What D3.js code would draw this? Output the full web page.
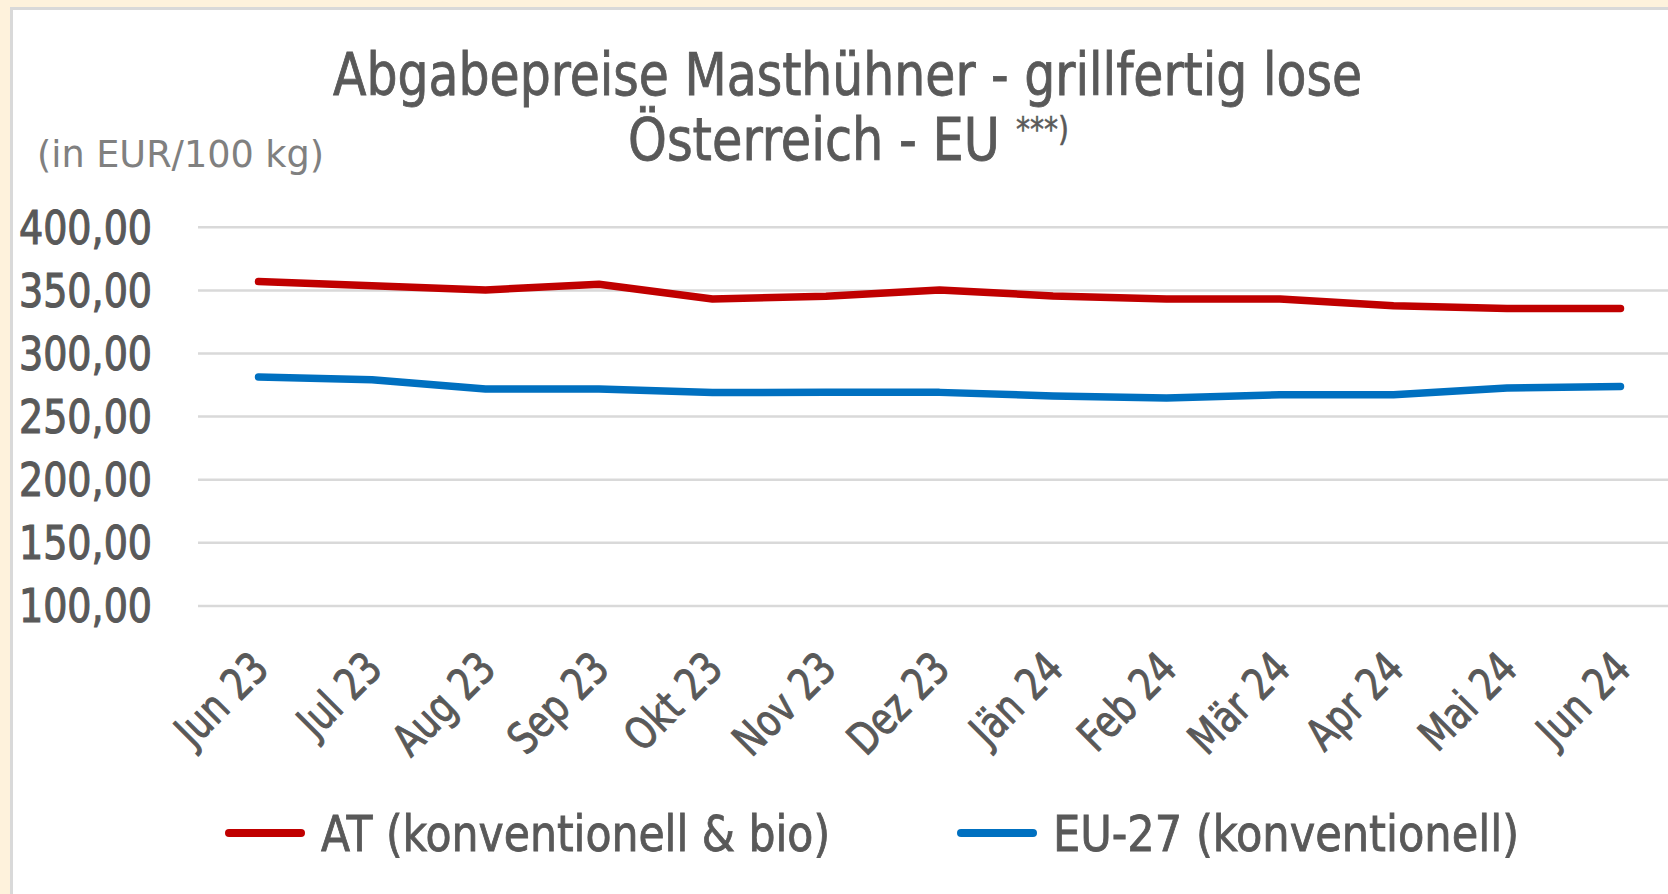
<!DOCTYPE html>
<html>
<head>
  <meta charset="utf-8">
  <title>Abgabepreise Masthühner</title>
  <style>
    html, body { margin: 0; padding: 0; background: #fef2dc; }
    svg { display: block; }
    text { font-family: "DejaVu Sans Condensed", "DejaVu Sans", sans-serif; fill: #595959; }
  </style>
</head>
<body>
  <svg width="1668" height="894"></svg>
  <script src="https://cdn.jsdelivr.net/npm/d3@7"></script>
  <script>
  // data
  var months = ["Jun 23", "Jul 23", "Aug 23", "Sep 23", "Okt 23", "Nov 23", "Dez 23",
                "Jän 24", "Feb 24", "Mär 24", "Apr 24", "Mai 24", "Jun 24"];
  var atValues = [356.6, 353.3, 350.0, 354.5, 342.8, 345.0, 350.0, 345.2, 342.8, 342.8, 337.5, 335.3, 335.3];
  var euValues = [281.0, 278.8, 271.4, 271.4, 268.7, 268.8, 268.8, 266.0, 264.3, 267.0, 267.0, 272.2, 273.5];
  var yTicks = [100, 150, 200, 250, 300, 350, 400];
  var seriesNames = ["AT (konventionell & bio)", "EU-27 (konventionell)"];
  var seriesColors = ["#c00000", "#0070c0"];

  var svg = d3.select("svg");

  // squeeze a text to a target width (the original font is narrower)
  function fitWidth(sel, w) {
    sel.attr("textLength", w).attr("lengthAdjust", "spacingAndGlyphs");
  }

  // white chart area with grey frame, cut at right/bottom
  svg.append("rect")
    .attr("x", 11.5).attr("y", 8.5)
    .attr("width", 1700).attr("height", 1000)
    .attr("fill", "#fff")
    .attr("stroke", "#d9d9d9")
    .attr("stroke-width", 3);

  var x = d3.scalePoint().domain(months).range([258.5, 1620.5]);
  var y = d3.scaleLinear().domain([100, 400]).range([605.4, 226.8]);

  // gridlines
  svg.append("g")
    .attr("transform", "translate(198,0)")
    .call(d3.axisLeft(y).tickValues(yTicks).tickSize(-1480).tickFormat(""))
    .call(function(g) { g.select(".domain").remove(); })
    .selectAll("line")
    .attr("stroke", "#d9d9d9")
    .attr("stroke-width", 2.5);

  // y labels
  var yAxis = svg.append("g")
    .attr("transform", "translate(198,0)")
    .call(d3.axisLeft(y).tickValues(yTicks).tickSize(0).tickPadding(46)
      .tickFormat(function(d) { return d3.format(".2f")(d).replace(".", ","); }));
  yAxis.select(".domain").remove();
  var yLabels = yAxis.selectAll("text")
    .attr("font-size", 46)
    .attr("dy", "0.36em")
    .attr("fill", "#595959")
    .style("font-family", "'DejaVu Sans Condensed', sans-serif")
    .attr("stroke", "#595959").attr("stroke-width", 1.1);
  var k = 133 / yLabels.filter(function(d) { return d === 400; }).node().getComputedTextLength();
  yLabels.each(function() {
    var t = d3.select(this);
    fitWidth(t, this.getComputedTextLength() * k);
  });

  // x labels, rotated
  var xAxis = svg.append("g")
    .call(d3.axisBottom(x).tickSize(0).tickPadding(0));
  xAxis.select(".domain").remove();
  xAxis.selectAll("text")
    .attr("font-size", 44)
    .attr("fill", "#595959")
    .style("font-family", "'DejaVu Sans Condensed', sans-serif")
    .attr("stroke", "#595959").attr("stroke-width", 1)
    .attr("text-anchor", "end")
    .attr("dy", 0)
    .attr("y", 0)
    .attr("transform", "translate(12,671) rotate(-45)")
    .each(function() {
      fitWidth(d3.select(this), this.getComputedTextLength() * 0.88);
    });

  // lines
  var line = d3.line()
    .x(function(d, i) { return x(months[i]); })
    .y(function(d) { return y(d); });

  [atValues, euValues].forEach(function(vals, i) {
    svg.append("path")
      .datum(vals)
      .attr("d", line)
      .attr("fill", "none")
      .attr("stroke", seriesColors[i])
      .attr("stroke-width", 7.5)
      .attr("stroke-linecap", "round")
      .attr("stroke-linejoin", "round");
  });

  // title
  var t1 = svg.append("text")
    .attr("x", 333).attr("y", 95)
    .attr("font-size", 58)
    .attr("stroke", "#595959").attr("stroke-width", 0.8)
    .text("Abgabepreise Masthühner - grillfertig lose");
  fitWidth(t1, 1029);

  var t2 = svg.append("text")
    .attr("x", 628).attr("y", 160)
    .attr("font-size", 58)
    .attr("stroke", "#595959").attr("stroke-width", 0.8)
    .text("Österreich - EU");
  fitWidth(t2, 372);

  var t3 = svg.append("text")
    .attr("x", 1016).attr("y", 141)
    .attr("font-size", 34)
    .attr("stroke", "#595959").attr("stroke-width", 0.5)
    .text("***)");
  fitWidth(t3, 53);

  // unit label
  var u = svg.append("text")
    .attr("x", 37).attr("y", 167)
    .attr("font-size", 38)
    .style("fill", "#808080")
    .text("(in EUR/100 kg)");
  fitWidth(u, 287);

  // legend
  var legendX = [225, 957];
  var legendW = [509, 466];
  seriesNames.forEach(function(name, i) {
    var g = svg.append("g");
    g.append("line")
      .attr("x1", legendX[i] + 4).attr("x2", legendX[i] + 76)
      .attr("y1", 833).attr("y2", 833)
      .attr("stroke", seriesColors[i])
      .attr("stroke-width", 8)
      .attr("stroke-linecap", "round");
    var lt = g.append("text")
      .attr("x", legendX[i] + 96).attr("y", 851)
      .attr("font-size", 50)
      .attr("stroke", "#595959").attr("stroke-width", 0.8)
      .text(name);
    fitWidth(lt, legendW[i]);
  });
  </script>
</body>
</html>
